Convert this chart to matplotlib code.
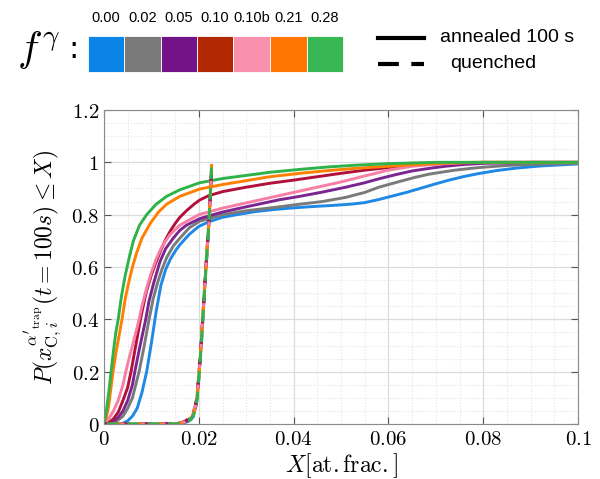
import numpy as np
import matplotlib
matplotlib.use("Agg")
import matplotlib.pyplot as plt
from matplotlib.patches import Rectangle
from matplotlib.lines import Line2D
from matplotlib.ticker import MultipleLocator, FuncFormatter

plt.rcParams['mathtext.fontset'] = 'cm'
plt.rcParams['font.family'] = ['DejaVu Sans']

# ---- data ----
labels = ['0.00', '0.02', '0.05', '0.10', '0.10b', '0.21', '0.28']
swatch_colors = ['#0a84e6', '#7a7a7a', '#74128a', '#b22800', '#f990ae', '#ff7600', '#38b855']
line_colors = ['#1e88e5', '#7a7a7a', '#7b2590', '#b0103a', '#f77fa5', '#ff8000', '#2db34a']

# annealed 100 s
x_000 = [0, 0.003, 0.004, 0.005, 0.006, 0.007, 0.008, 0.009, 0.010, 0.011, 0.012, 0.013, 0.014,
         0.015, 0.016, 0.018, 0.020, 0.022, 0.025, 0.028, 0.032, 0.036, 0.040, 0.044, 0.048, 0.052,
         0.055, 0.058, 0.061, 0.064, 0.067, 0.070, 0.073, 0.076, 0.079, 0.083, 0.087, 0.092, 0.097, 0.1]
p_000 = [0, 0.0, 0.003, 0.012, 0.03, 0.06, 0.12, 0.20, 0.31, 0.43, 0.53, 0.59, 0.63,
         0.66, 0.685, 0.725, 0.755, 0.772, 0.79, 0.80, 0.812, 0.82, 0.826, 0.831, 0.835, 0.84,
         0.846, 0.858, 0.872, 0.886, 0.902, 0.918, 0.933, 0.946, 0.957, 0.969, 0.978, 0.986, 0.991, 0.994]

x_002 = [0, 0.002, 0.003, 0.004, 0.005, 0.006, 0.0074, 0.0085, 0.0095, 0.0104, 0.0113, 0.0122, 0.0132,
         0.0146, 0.016, 0.018, 0.0202, 0.025, 0.030, 0.037, 0.0413, 0.046, 0.051, 0.055, 0.058, 0.062,
         0.0655, 0.0686, 0.074, 0.079, 0.085, 0.090, 0.1]
p_002 = [0, 0.005, 0.015, 0.03, 0.06, 0.10, 0.20, 0.30, 0.40, 0.48, 0.54, 0.59, 0.635,
         0.68, 0.71, 0.75, 0.775, 0.80, 0.815, 0.83, 0.84, 0.85, 0.866, 0.885, 0.905, 0.925,
         0.942, 0.955, 0.97, 0.98, 0.988, 0.992, 0.997]

x_005 = [0, 0.002, 0.003, 0.004, 0.005, 0.006, 0.0065, 0.0075, 0.0088, 0.0095, 0.0105, 0.0118, 0.013,
         0.0146, 0.016, 0.0174, 0.0202, 0.025, 0.030, 0.037, 0.0413, 0.046, 0.051, 0.055, 0.058,
         0.062, 0.065, 0.069, 0.072, 0.076, 0.080, 0.090, 0.1]
p_005 = [0, 0.01, 0.025, 0.05, 0.09, 0.15, 0.20, 0.29, 0.40, 0.47, 0.54, 0.62, 0.67,
         0.71, 0.74, 0.76, 0.785, 0.81, 0.83, 0.857, 0.87, 0.886, 0.905, 0.922, 0.937,
         0.955, 0.967, 0.978, 0.985, 0.992, 0.996, 1.0, 1.0]

x_010 = [0, 0.001, 0.002, 0.003, 0.004, 0.005, 0.0057, 0.0065, 0.0072, 0.0078, 0.0085, 0.009, 0.010,
         0.011, 0.012, 0.013, 0.014, 0.015, 0.016, 0.0174, 0.019, 0.0202, 0.022, 0.025, 0.030, 0.035,
         0.040, 0.045, 0.050, 0.055, 0.060, 0.065, 0.070, 0.075, 0.080, 0.1]
p_010 = [0, 0.005, 0.02, 0.045, 0.09, 0.14, 0.20, 0.28, 0.35, 0.41, 0.47, 0.51, 0.57,
         0.62, 0.665, 0.705, 0.738, 0.766, 0.79, 0.815, 0.84, 0.856, 0.872, 0.888, 0.905, 0.92,
         0.932, 0.945, 0.958, 0.97, 0.98, 0.988, 0.994, 0.998, 1.0, 1.0]

x_010b = [0, 0.001, 0.002, 0.003, 0.004, 0.0046, 0.005, 0.006, 0.007, 0.0074, 0.008, 0.009, 0.010,
          0.011, 0.012, 0.013, 0.014, 0.016, 0.018, 0.020, 0.025, 0.030, 0.035, 0.040, 0.045, 0.050,
          0.055, 0.060, 0.065, 0.070, 0.075, 0.080, 0.1]
p_010b = [0, 0.02, 0.05, 0.09, 0.15, 0.20, 0.23, 0.30, 0.37, 0.40, 0.45, 0.52, 0.58,
          0.63, 0.67, 0.70, 0.725, 0.76, 0.78, 0.80, 0.825, 0.845, 0.865, 0.885, 0.905, 0.925,
          0.948, 0.97, 0.985, 0.993, 0.998, 1.0, 1.0]

x_021 = [0, 0.0005, 0.001, 0.0019, 0.0025, 0.003, 0.0038, 0.0045, 0.0052, 0.006, 0.0069, 0.008, 0.0097,
         0.0115, 0.0132, 0.016, 0.0202, 0.025, 0.030, 0.035, 0.0413, 0.047, 0.053, 0.060, 0.066,
         0.072, 0.078, 0.1]
p_021 = [0, 0.025, 0.07, 0.20, 0.27, 0.32, 0.40, 0.48, 0.54, 0.60, 0.655, 0.71, 0.765,
         0.81, 0.84, 0.87, 0.898, 0.915, 0.93, 0.945, 0.958, 0.968, 0.977, 0.985, 0.992,
         0.997, 1.0, 1.0]

x_028 = [0, 0.0005, 0.001, 0.0015, 0.002, 0.0025, 0.003, 0.0037, 0.0045, 0.0055, 0.0062, 0.0075, 0.009,
         0.011, 0.0132, 0.016, 0.0202, 0.025, 0.030, 0.035, 0.0413, 0.047, 0.053, 0.060, 0.066,
         0.070, 0.1]
p_028 = [0, 0.05, 0.12, 0.20, 0.28, 0.35, 0.40, 0.49, 0.57, 0.65, 0.70, 0.76, 0.80,
         0.84, 0.87, 0.895, 0.922, 0.938, 0.95, 0.962, 0.973, 0.982, 0.989, 0.995, 0.998,
         1.0, 1.0]

annealed_x = [x_000, x_002, x_005, x_010, x_010b, x_021, x_028]
annealed_p = [p_000, p_002, p_005, p_010, p_010b, p_021, p_028]

# quenched
q_x = [0, 0.012, 0.015, 0.016, 0.017, 0.0178, 0.0184, 0.0189, 0.0193, 0.0197, 0.0201, 0.0205,
       0.0209, 0.0213, 0.0217, 0.0221, 0.0224, 0.0226, 0.0227]
q_p = {
    '0.00': [0, 0, 0.0, 0.002, 0.005, 0.010, 0.018, 0.030, 0.055, 0.10, 0.19, 0.29, 0.41, 0.53, 0.64, 0.75, 0.85, 0.93, 0.98],
    '0.02': [0, 0, 0.0, 0.002, 0.006, 0.012, 0.020, 0.033, 0.058, 0.11, 0.20, 0.30, 0.42, 0.54, 0.65, 0.76, 0.86, 0.94, 0.985],
    '0.05': [0, 0, 0.001, 0.003, 0.008, 0.016, 0.026, 0.040, 0.065, 0.12, 0.21, 0.31, 0.42, 0.54, 0.65, 0.76, 0.86, 0.94, 0.99],
    '0.10': [0, 0, 0.001, 0.004, 0.010, 0.020, 0.032, 0.048, 0.072, 0.125, 0.21, 0.31, 0.43, 0.55, 0.66, 0.77, 0.87, 0.94, 0.99],
    '0.10b': [0, 0, 0.001, 0.003, 0.008, 0.017, 0.028, 0.043, 0.068, 0.12, 0.20, 0.30, 0.42, 0.54, 0.65, 0.76, 0.86, 0.94, 0.99],
    '0.21': [0, 0, 0.0, 0.002, 0.007, 0.014, 0.024, 0.038, 0.062, 0.11, 0.20, 0.30, 0.42, 0.54, 0.65, 0.76, 0.86, 0.95, 0.995],
    '0.28': [0, 0, 0.0, 0.002, 0.006, 0.012, 0.021, 0.034, 0.058, 0.105, 0.20, 0.30, 0.42, 0.54, 0.65, 0.76, 0.87, 0.95, 1.0],
}

W, H = 600, 479
fig = plt.figure(figsize=(W / 100, H / 100), dpi=100)
ax = fig.add_axes([104 / W, 1 - 424 / H, (578 - 104) / W, (424 - 110) / H])

for i in range(len(labels)):
    ax.plot(annealed_x[i], annealed_p[i], color=line_colors[i], lw=2.1)

for i, lab in enumerate(labels):
    ax.plot(q_x, q_p[lab], color=line_colors[i], lw=2.1,
            linestyle=(i * 1.0, (4, 3)))

ax.set_xlim(0, 0.1)
ax.set_ylim(0, 1.2)
ax.xaxis.set_major_locator(MultipleLocator(0.02))
ax.xaxis.set_minor_locator(MultipleLocator(0.005))
ax.yaxis.set_major_locator(MultipleLocator(0.2))
ax.yaxis.set_minor_locator(MultipleLocator(0.05))


def fmt(v, pos):
    s = ('%.2f' % v).rstrip('0').rstrip('.')
    if s in ('-0', ''):
        s = '0'
    return '$' + s + '$'


ax.xaxis.set_major_formatter(FuncFormatter(fmt))
ax.yaxis.set_major_formatter(FuncFormatter(fmt))
ax.tick_params(which='both', direction='in', top=True, right=True, labelsize=15, color='#555555')
ax.tick_params(which='major', length=5)
ax.tick_params(which='minor', length=0)
ax.grid(which='major', color='#dcdcdc', lw=0.9)
ax.grid(which='minor', color='#e4e4e4', lw=0.8, linestyle=':')
ax.set_axisbelow(True)
for s in ax.spines.values():
    s.set_color('#8a8a8a')

ax.set_xlabel(r'$X[\mathrm{at.frac.}]$', fontsize=17, labelpad=2)
ax.set_ylabel(r"$P(x_{\mathrm{C},i}^{\alpha'_{\mathrm{trap}}}(t=100s)\leq X)$", fontsize=17, labelpad=4)


# ---- header legend (pixel positions converted to figure fraction) ----
def fx(px):
    return px / W


def fy(py):
    return 1 - py / H


fig.text(fx(17), fy(50), r'$f^{\gamma}$', fontsize=30, va='center', ha='left')
fig.text(fx(68), fy(50), ':', fontsize=22, va='center', ha='left')

edges = [88, 124, 161, 197, 233, 270, 307, 343]
for i in range(len(labels)):
    x0, x1 = edges[i], edges[i + 1]
    fig.add_artist(Rectangle((fx(x0), fy(72)), fx(x1 - x0), (72 - 36) / H,
                             transform=fig.transFigure, facecolor=swatch_colors[i],
                             edgecolor='white', lw=0.6))
    fig.text(fx((x0 + x1) / 2), fy(18), labels[i], fontsize=10.5, ha='center', va='center',
             family=['Liberation Sans', 'DejaVu Sans'])

fig.add_artist(Line2D([fx(378), fx(424)], [fy(38), fy(38)], color='black', lw=3))
fig.add_artist(Line2D([fx(378), fx(424)], [fy(64), fy(64)], color='black', lw=3,
                      linestyle=(0, (5, 3))))
fig.text(fx(440), fy(38), 'annealed 100 s', fontsize=14, va='center', ha='left',
         family=['Liberation Sans', 'DejaVu Sans'])
fig.text(fx(450), fy(64), 'quenched', fontsize=14, va='center', ha='left',
         family=['Liberation Sans', 'DejaVu Sans'])

fig.savefig('out.png', dpi=100)
